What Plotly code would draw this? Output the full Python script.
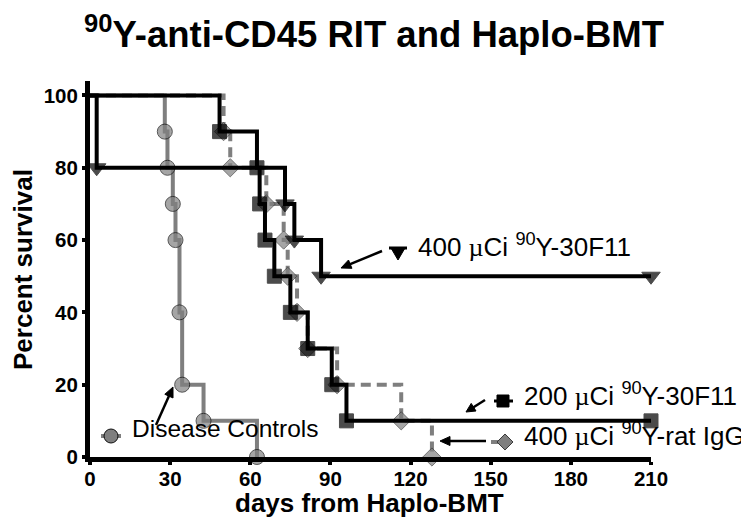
import math
import plotly.graph_objects as go

# ---------------- data ----------------
dc_days = [0, 28, 29, 31, 32, 33.5, 34.5, 42.5, 62.5]
dc_surv = [100, 90, 80, 70, 60, 40, 20, 10, 0]

igg_days = [0, 50, 52.5, 66, 72.5, 74, 77.5, 81.5, 92.5, 116.5, 128]
igg_surv = [100, 90, 80, 70, 60, 50, 40, 30, 20, 10, 0]

y400_days = [0, 2.5, 73, 76.5, 86.5, 210]
y400_surv = [100, 80, 70, 60, 50, 50]

y200_days = [0, 48.5, 62.5, 63.5, 65.5, 69, 75, 81.5, 90.5, 96, 210]
y200_surv = [100, 90, 80, 70, 60, 50, 40, 30, 20, 10, 10]

x_ticks = [0, 30, 60, 90, 120, 150, 180, 210]
y_ticks = [0, 20, 40, 60, 80, 100]

title_text = "<sup>90</sup>Y-anti-CD45 RIT and Haplo-BMT"
x_title = "days from Haplo-BMT"
y_title = "Percent survival"
MU = "<span style=\"font-family:'Liberation Serif', serif\">µ</span>"
lab_400 = "400 " + MU + "Ci <sup>90</sup>Y-30F11"
lab_200 = "200 " + MU + "Ci <sup>90</sup>Y-30F11"
lab_igg = "400 " + MU + "Ci <sup>90</sup>Y-rat IgG"
lab_dc = "Disease Controls"

# ---------------- layout geometry ----------------
W, H = 749, 524
L, R, T, B = 82, 106, 73, 75
PW, PH = W - L - R, H - T - B

def px(x):
    return (x - L) / PW

def py(y):
    return (H - B - y) / PH

GRAY = "#7f7f7f"
FONT = "Liberation Sans, Arial, sans-serif"

fig = go.Figure()

def add_curve(days, surv, color, dash, symbol, size, mcolor, mline):
    sizes = [0] + [size] * (len(days) - 1)
    fig.add_trace(go.Scatter(
        x=days, y=surv, mode="lines+markers", line_shape="hv",
        line=dict(color=color, width=4, dash=dash),
        marker=dict(symbol=symbol, size=sizes, color=mcolor,
                    line=dict(color=mline, width=1)),
        cliponaxis=False, showlegend=False, hoverinfo="skip"))

add_curve(dc_days, dc_surv, GRAY, "solid", "circle", 15, GRAY, "#111111")
add_curve(igg_days, igg_surv, GRAY, "10px,6px", "diamond", 14, GRAY, "#3a3a3a")
add_curve(y400_days, y400_surv, "black", "solid", "triangle-down", 16, "black", "black")
add_curve(y200_days, y200_surv, "black", "solid", "square", 14, "black", "black")

# ---------------- legend-like labels with symbols and arrows ----------------
shapes = []
def seg(x0, x1, y0, y1, color, w):
    shapes.append(dict(type="line", xref="paper", yref="paper",
                       x0=px(x0), x1=px(x1), y0=py(y0), y1=py(y1),
                       line=dict(color=color, width=w)))

def poly(pts, fill, line):
    d = "M " + " L ".join(f"{px(a):.5f},{py(b):.5f}" for a, b in pts) + " Z"
    shapes.append(dict(type="path", xref="paper", yref="paper", path=d,
                       fillcolor=fill, line=dict(color=line, width=1)))

def arrow(hx, hy, tx, ty, head=10, half=4.5):
    dx, dy = hx - tx, hy - ty
    n = math.hypot(dx, dy)
    ux, uy = dx / n, dy / n
    bx, by = hx - ux * head, hy - uy * head
    seg(tx, bx + ux * 2, ty, by + uy * 2, "black", 2.5)
    poly([(hx, hy), (bx - uy * half, by + ux * half), (bx + uy * half, by - ux * half)],
         "black", "black")

# triangle (400 uCi 30F11)
seg(381, 399, 240, 240, "black", 3)
poly([(383, 240), (397, 240), (390, 252)], "black", "black")
# square (200 uCi 30F11)
seg(486, 505, 393, 393, "black", 3)
poly([(489, 387), (501, 387), (501, 399), (489, 399)], "black", "black")
# diamond (rat IgG)
seg(483, 492, 434, 434, GRAY, 4)
poly([(497, 426), (505, 434), (497, 442), (489, 434)], GRAY, "#3a3a3a")
# circle (disease controls)
seg(93, 113, 428, 428, GRAY, 4)
shapes.append(dict(type="circle", xref="paper", yref="paper",
                   x0=px(96), x1=px(110), y0=py(421), y1=py(435),
                   fillcolor=GRAY, line=dict(color="#111111", width=1)))

arrow(333, 260, 374, 243)
arrow(458, 404, 477, 392, head=9)
arrow(432, 433, 478, 433)
arrow(165, 379, 148, 417)

annotations = []
def label(text, x, y, size=26):
    annotations.append(dict(text=text, xref="paper", yref="paper",
                            x=px(x), y=py(y), xanchor="left", yanchor="middle",
                            showarrow=False, font=dict(family=FONT, size=size, color="black")))

label(lab_400, 408, 237)
label(lab_200, 514, 386)
label(lab_igg, 514, 426)
label(lab_dc, 122, 420, size=24.5)

# titles
annotations.append(dict(text=title_text, xref="paper", yref="paper",
                        x=px(366), y=py(24), xanchor="center", yanchor="middle",
                        showarrow=False,
                        font=dict(family=FONT, size=36.5, color="black", weight="bold")))
annotations.append(dict(text=x_title, xref="paper", yref="paper",
                        x=px(361), y=py(495), xanchor="center", yanchor="middle",
                        showarrow=False,
                        font=dict(family=FONT, size=26, color="black", weight="bold")))
annotations.append(dict(text=y_title, xref="paper", yref="paper",
                        x=px(15), y=py(262), xanchor="center", yanchor="middle",
                        textangle=-90, showarrow=False,
                        font=dict(family=FONT, size=26, color="black", weight="bold")))

fig.update_layout(
    width=W, height=H,
    margin=dict(l=L, r=R, t=T, b=B, pad=0),
    paper_bgcolor="white", plot_bgcolor="white",
    shapes=shapes, annotations=annotations,
    xaxis=dict(range=[0, 210], tickmode="array", tickvals=x_ticks,
               ticktext=[str(v) for v in x_ticks],
               showline=True, linewidth=5, linecolor="black",
               ticks="outside", ticklen=3, tickwidth=4, tickcolor="black",
               ticklabelstandoff=-4,
               showgrid=False, zeroline=False,
               tickfont=dict(family=FONT, size=20.5, color="black", weight="bold")),
    yaxis=dict(range=[0, 104], tickmode="array", tickvals=y_ticks,
               ticktext=[str(v) for v in y_ticks],
               showline=True, linewidth=5, linecolor="black",
               ticks="outside", ticklen=3, tickwidth=4, tickcolor="black",
               showgrid=False, zeroline=False,
               tickfont=dict(family=FONT, size=20.5, color="black", weight="bold")),
)

fig.write_html("out.html")
